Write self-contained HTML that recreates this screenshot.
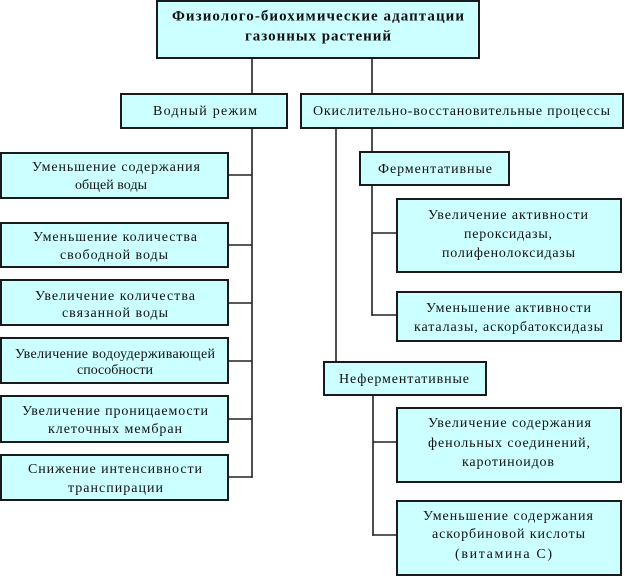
<!DOCTYPE html>
<html><head><meta charset="utf-8"><style>
html,body{margin:0;padding:0;background:#fff;}
svg{display:block;}
text{font-family:"Liberation Serif","Times New Roman",serif;font-size:14px;fill:#111;}
.t{font-weight:bold;font-size:15px;}
rect{fill:#ccffff;stroke:#1a1a1a;stroke-width:2;}
line{stroke:#222;stroke-width:1.6;}
</style></head><body>
<svg width="625" height="578" viewBox="0 0 625 578" xmlns="http://www.w3.org/2000/svg">
<!-- connectors -->
<line x1="252" y1="59" x2="252" y2="93"/>
<line x1="372" y1="59" x2="372" y2="93"/>
<line x1="252" y1="129" x2="252" y2="477.8"/>
<line x1="229" y1="175" x2="252" y2="175"/>
<line x1="229" y1="245" x2="252" y2="245"/>
<line x1="229" y1="303" x2="252" y2="303"/>
<line x1="229" y1="361" x2="252" y2="361"/>
<line x1="229" y1="419" x2="252" y2="419"/>
<line x1="229" y1="477" x2="252.8" y2="477"/>
<line x1="336" y1="129" x2="336" y2="361"/>
<line x1="372" y1="129" x2="372" y2="151"/>
<line x1="372" y1="186" x2="372" y2="315.8"/>
<line x1="372" y1="233" x2="396" y2="233"/>
<line x1="371.2" y1="315" x2="396" y2="315"/>
<line x1="373" y1="396" x2="373" y2="535.8"/>
<line x1="373" y1="442" x2="396" y2="442"/>
<line x1="372.2" y1="535" x2="396" y2="535"/>

<!-- boxes -->
<rect x="157" y="1" width="322" height="57"/>
<rect x="121" y="94" width="166" height="34"/>
<rect x="301" y="94" width="322" height="34"/>
<rect x="1" y="153" width="227" height="45"/>
<rect x="1" y="223" width="227" height="44"/>
<rect x="1" y="280" width="227" height="45"/>
<rect x="1" y="338" width="227" height="45"/>
<rect x="1" y="396" width="227" height="46"/>
<rect x="1" y="455" width="227" height="45"/>
<rect x="360" y="152" width="149" height="33"/>
<rect x="397" y="199" width="224" height="73"/>
<rect x="397" y="292" width="224" height="49"/>
<rect x="324" y="362" width="162" height="33"/>
<rect x="397" y="408" width="224" height="74"/>
<rect x="397" y="501" width="224" height="74"/>

<!-- title -->
<text class="t" x="172" y="20.5" textLength="292" lengthAdjust="spacing">Физиолого-биохимические адаптации</text>
<text class="t" x="245" y="40.5" textLength="146" lengthAdjust="spacing">газонных растений</text>

<text x="153" y="115" textLength="104" lengthAdjust="spacing">Водный режим</text>
<text x="313" y="115" textLength="297" lengthAdjust="spacing">Окислительно-восстановительные процессы</text>

<!-- left column -->
<text x="32" y="171" textLength="168" lengthAdjust="spacing">Уменьшение содержания</text>
<text x="75" y="189" textLength="72" lengthAdjust="spacing">общей воды</text>

<text x="33" y="241" textLength="164" lengthAdjust="spacing">Уменьшение количества</text>
<text x="60" y="259" textLength="108" lengthAdjust="spacing">свободной воды</text>

<text x="35" y="300" textLength="160" lengthAdjust="spacing">Увеличение количества</text>
<text x="62" y="317" textLength="106" lengthAdjust="spacing">связанной воды</text>

<text x="15" y="358" textLength="200" lengthAdjust="spacing">Увеличение водоудерживающей</text>
<text x="77" y="374" textLength="76" lengthAdjust="spacing">способности</text>

<text x="22" y="415" textLength="186" lengthAdjust="spacing">Увеличение проницаемости</text>
<text x="48" y="433" textLength="134" lengthAdjust="spacing">клеточных мембран</text>

<text x="28" y="473" textLength="174" lengthAdjust="spacing">Снижение интенсивности</text>
<text x="68" y="492" textLength="95" lengthAdjust="spacing">транспирации</text>

<!-- right column -->
<text x="378" y="173" textLength="114" lengthAdjust="spacing">Ферментативные</text>

<text x="428" y="219" textLength="160" lengthAdjust="spacing">Увеличение активности</text>
<text x="464" y="238" textLength="88" lengthAdjust="spacing">пероксидазы,</text>
<text x="442" y="257" textLength="133" lengthAdjust="spacing">полифенолоксидазы</text>

<text x="426" y="312" textLength="165" lengthAdjust="spacing">Уменьшение активности</text>
<text x="414" y="331" textLength="189" lengthAdjust="spacing">каталазы, аскорбатоксидазы</text>

<text x="339" y="383" textLength="130" lengthAdjust="spacing">Неферментативные</text>

<text x="428" y="427" textLength="163" lengthAdjust="spacing">Увеличение содержания</text>
<text x="428" y="447" textLength="162" lengthAdjust="spacing">фенольных соединений,</text>
<text x="462" y="466" textLength="92" lengthAdjust="spacing">каротиноидов</text>

<text x="423" y="520" textLength="170" lengthAdjust="spacing">Уменьшение содержания</text>
<text x="432" y="538" textLength="153" lengthAdjust="spacing">аскорбиновой кислоты</text>
<text x="455" y="558" textLength="97" lengthAdjust="spacing">(витамина С)</text>
</svg>
</body></html>
